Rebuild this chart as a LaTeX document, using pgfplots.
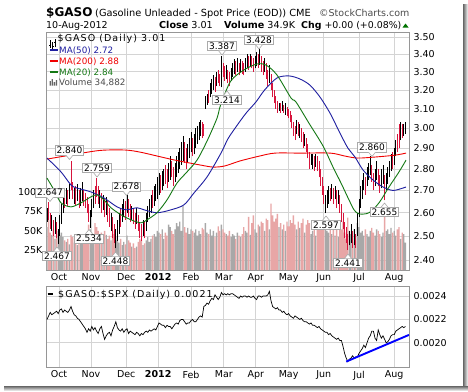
\documentclass[border=0pt]{standalone}
\usepackage{fontspec}
\setmainfont{DejaVu Sans}
\newfontfamily\widefont{DejaVu Sans}[LetterSpace=11]
\usepackage{pgfplots}
\usepackage{pgfplotstable}
\pgfplotsset{compat=1.18}

\definecolor{dnbar}{RGB}{215,20,60}
\definecolor{upvol}{RGB}{168,168,168}
\definecolor{dnvol}{RGB}{232,166,166}
\definecolor{ma50c}{RGB}{30,30,160}
\definecolor{ma200c}{RGB}{240,0,0}
\definecolor{ma20c}{RGB}{20,120,20}
\definecolor{gridc}{RGB}{212,212,212}
\definecolor{framec}{RGB}{150,150,150}
\definecolor{lblc}{RGB}{170,170,170}
\newcommand{\tfont}{\fontsize{9.5bp}{10bp}\selectfont}

\pgfplotstableread{
i lo hi vol
0 2.56 2.62 55
3 2.52 2.59 45
5 2.51 2.58 40
7 2.467 2.53 50
8 2.50 2.59 44
9 2.55 2.64 48
10 2.60 2.68 42
12 2.64 2.71 36
14 2.66 2.73 33
17 2.64 2.71 35
19 2.65 2.73 32
21 2.63 2.71 34
22 2.65 2.74 40
27 2.534 2.61 52
28 2.58 2.66 48
29 2.62 2.70 44
33 2.62 2.70 46
35 2.61 2.68 42
37 2.59 2.67 45
40 2.52 2.60 38
43 2.448 2.53 42
44 2.48 2.57 38
45 2.51 2.60 35
47 2.56 2.64 32
48 2.58 2.66 36
50 2.60 2.678 44
53 2.57 2.63 30
56 2.55 2.62 30
60 2.50 2.57 32
62 2.52 2.60 38
63 2.56 2.63 42
64 2.58 2.66 36
65 2.60 2.68 40
67 2.63 2.72 46
68 2.65 2.73 42
69 2.66 2.76 50
70 2.68 2.78 48
72 2.70 2.79 52
73 2.72 2.80 40
76 2.74 2.83 58
77 2.75 2.86 55
80 2.74 2.83 52
81 2.76 2.86 60
82 2.78 2.88 56
83 2.80 2.90 62
84 2.82 2.93 50
85 2.84 2.96 82
88 2.83 2.92 54
89 2.85 2.95 46
90 2.88 2.98 52
92 2.87 2.97 48
93 2.90 3.00 52
94 2.92 3.01 44
95 2.94 3.03 50
96 2.96 3.04 46
99 3.10 3.17 60
100 3.12 3.18 48
102 3.16 3.24 52
103 3.18 3.26 44
104 3.20 3.28 50
106 3.22 3.30 48
109 3.214 3.387 58
112 3.26 3.34 46
115 3.25 3.32 42
116 3.27 3.35 46
117 3.29 3.37 44
119 3.30 3.38 48
121 3.30 3.37 42
124 3.30 3.38 50
125 3.32 3.40 48
127 3.33 3.40 45
130 3.32 3.39 52
131 3.33 3.41 48
133 3.34 3.428 56
136 3.30 3.38 50
139 3.24 3.34 52
145 3.09 3.13 55
147 3.09 3.14 52
149 3.07 3.13 50
156 2.97 3.04 52
158 2.95 3.02 54
161 2.91 2.97 48
165 2.82 2.87 46
166 2.80 2.87 50
168 2.81 2.87 44
174 2.597 2.68 56
175 2.62 2.70 50
176 2.64 2.72 48
178 2.66 2.73 46
180 2.66 2.72 44
182 2.64 2.70 42
189 2.46 2.52 50
190 2.47 2.55 46
192 2.46 2.53 52
194 2.50 2.60 60
195 2.58 2.66 55
196 2.62 2.72 48
197 2.66 2.75 50
198 2.70 2.78 44
200 2.72 2.81 46
201 2.75 2.83 42
202 2.77 2.860 50
205 2.72 2.80 44
206 2.75 2.84 52
209 2.71 2.80 42
210 2.73 2.82 48
212 2.70 2.78 50
213 2.73 2.81 52
214 2.76 2.84 46
215 2.79 2.87 54
217 2.82 2.90 50
218 2.86 2.94 44
221 2.94 3.03 40
223 2.96 3.02 46
224 2.97 3.03 35
}\uptab

\pgfplotstableread{
i lo hi vol
1 2.57 2.647 64
2 2.53 2.60 48
4 2.50 2.57 52
6 2.49 2.56 46
11 2.62 2.70 38
13 2.63 2.70 40
15 2.70 2.840 45
16 2.66 2.74 42
18 2.63 2.72 38
20 2.62 2.70 36
23 2.63 2.70 38
24 2.62 2.69 42
25 2.60 2.67 46
26 2.56 2.64 58
30 2.64 2.72 60
31 2.67 2.759 55
32 2.64 2.72 50
34 2.60 2.69 48
36 2.58 2.66 50
38 2.56 2.65 40
39 2.54 2.62 44
41 2.49 2.58 46
42 2.47 2.55 50
46 2.54 2.62 40
49 2.57 2.65 33
51 2.58 2.66 38
52 2.56 2.64 35
54 2.55 2.62 34
55 2.53 2.60 28
57 2.52 2.59 36
58 2.49 2.56 40
59 2.48 2.55 38
61 2.49 2.56 34
66 2.62 2.70 44
71 2.69 2.77 46
74 2.73 2.82 48
75 2.71 2.80 44
78 2.76 2.84 50
79 2.72 2.81 46
86 2.83 2.93 55
87 2.80 2.90 48
91 2.86 2.95 50
97 2.95 3.03 54
98 2.96 3.02 52
101 3.13 3.20 46
105 3.19 3.27 42
107 3.24 3.31 56
108 3.22 3.29 50
110 3.27 3.35 52
111 3.25 3.33 48
113 3.24 3.31 44
114 3.22 3.30 50
118 3.28 3.36 40
120 3.28 3.35 44
122 3.29 3.36 46
123 3.28 3.35 55
126 3.31 3.39 68
128 3.32 3.39 60
129 3.30 3.38 70
132 3.32 3.40 58
134 3.30 3.39 62
135 3.28 3.36 60
137 3.26 3.35 66
138 3.22 3.31 64
140 3.20 3.29 85
141 3.16 3.24 70
142 3.13 3.20 62
143 3.10 3.17 66
144 3.08 3.14 72
146 3.08 3.13 60
148 3.08 3.12 58
150 3.06 3.11 62
151 3.05 3.10 56
152 3.03 3.09 64
153 3.00 3.07 60
154 2.96 3.03 70
155 2.94 3.01 58
157 2.96 3.03 62
159 2.93 3.00 60
160 2.90 2.98 66
162 2.88 2.95 58
163 2.85 2.92 64
164 2.80 2.88 60
167 2.79 2.86 56
169 2.79 2.86 52
170 2.76 2.84 58
171 2.72 2.80 62
172 2.68 2.76 54
173 2.64 2.72 60
177 2.65 2.71 54
179 2.64 2.71 58
181 2.62 2.70 60
183 2.60 2.68 56
184 2.56 2.64 52
185 2.53 2.60 62
186 2.49 2.56 48
187 2.47 2.54 40
188 2.441 2.51 67
191 2.45 2.52 36
193 2.45 2.51 38
199 2.68 2.76 52
203 2.74 2.82 54
204 2.70 2.78 48
207 2.72 2.80 50
208 2.69 2.77 46
211 2.655 2.77 68
216 2.80 2.88 48
219 2.88 2.97 52
220 2.90 3.02 55
222 2.95 3.02 48
}\dntab

\pgfplotstableread{
i p
0 2.852
8.75 2.786
15 2.725
18.75 2.711
27.5 2.693
35.6 2.666
43.75 2.626
49.4 2.613
56.25 2.622
60.6 2.613
68.75 2.600
77.5 2.613
85.6 2.635
91.9 2.689
100 2.762
108.75 2.876
113 2.945
118 3.005
124.4 3.077
130.6 3.136
136 3.200
143.75 3.266
151.25 3.277
158.1 3.260
164.4 3.226
170.6 3.162
176.9 3.077
183.1 2.975
188.1 2.900
192.5 2.857
197.5 2.795
203.75 2.748
210 2.716
216.25 2.700
222.5 2.711
224.4 2.716
}\mafifty

\pgfplotstableread{
i p
0 2.757
4.4 2.702
8.75 2.644
15 2.626
21.25 2.644
27.5 2.671
31.25 2.680
35.6 2.657
40 2.622
46.25 2.591
52.5 2.569
58.75 2.556
62.5 2.569
68.75 2.600
75 2.657
81.25 2.734
87.5 2.786
93.75 2.842
100 2.935
106.25 3.051
108.5 3.120
114.8 3.248
123 3.310
131.25 3.344
136.9 3.338
143.75 3.282
152.5 3.157
155.6 3.136
163.75 3.025
172.5 2.911
178.75 2.809
183.75 2.734
188.75 2.657
191.9 2.613
195 2.595
201.25 2.600
207.5 2.644
213.75 2.716
220 2.786
224.4 2.842
}\matwenty

\pgfplotstableread{
i p
0 2.847
14.4 2.866
33 2.889
48.75 2.891
58 2.881
68.75 2.862
80 2.842
95.6 2.819
103.75 2.809
111 2.814
120.6 2.838
133 2.862
142.5 2.876
158 2.876
177 2.876
186 2.862
194 2.852
205 2.857
217.5 2.866
224.4 2.876
}\matwohundred

\pgfplotstableread{
i v
0 0.00220
1 0.00223
2 0.00226
3 0.00224
4 0.00225
5 0.00226
6 0.00227
7 0.00225
8 0.00228
9 0.00229
10 0.00226
11 0.00228
12 0.00227
13 0.00226
14 0.00228
15 0.00231
16 0.00227
17 0.00224
18 0.00223
19 0.00221
20 0.00220
21 0.00218
22 0.00216
23 0.00214
24 0.00212
25 0.00209
26 0.00212
27 0.00210
28 0.00214
29 0.00211
30 0.00213
31 0.00210
32 0.00208
33 0.00212
34 0.00214
35 0.00208
36 0.00203
37 0.00206
38 0.00208
39 0.00209
40 0.00206
41 0.00211
42 0.00214
43 0.00218
44 0.00213
45 0.00211
46 0.00210
47 0.00212
48 0.00209
49 0.00211
50 0.00212
51 0.00208
52 0.00210
53 0.00209
54 0.00208
55 0.00207
56 0.00209
57 0.00208
58 0.00206
59 0.00208
60 0.00207
61 0.00209
62 0.00210
63 0.00209
64 0.00211
65 0.00210
66 0.00211
67 0.00212
68 0.00211
69 0.00214
70 0.00217
71 0.00216
72 0.00215
73 0.00215
74 0.00213
75 0.00215
76 0.00214
77 0.00214
78 0.00212
79 0.00214
80 0.00216
81 0.00217
82 0.00216
83 0.00219
84 0.00220
85 0.00220
86 0.00218
87 0.00216
88 0.00217
89 0.00217
90 0.00219
91 0.00220
92 0.00218
93 0.00218
94 0.00220
95 0.00222
96 0.00223
97 0.00222
98 0.00231
99 0.00232
100 0.00234
101 0.00233
102 0.00236
103 0.00238
104 0.00237
105 0.00241
106 0.00239
107 0.00237
108 0.00239
109 0.00243
110 0.00241
111 0.00242
112 0.00241
113 0.00242
114 0.00241
115 0.00242
116 0.00242
117 0.00241
118 0.00240
119 0.00239
120 0.00238
121 0.00240
122 0.00239
123 0.00240
124 0.00240
125 0.00239
126 0.00240
127 0.00239
128 0.00239
129 0.00240
130 0.00238
131 0.00237
132 0.00240
133 0.00240
134 0.00239
135 0.00240
136 0.00240
137 0.00240
138 0.00241
139 0.00244
140 0.00236
141 0.00231
142 0.00230
143 0.00229
144 0.00230
145 0.00228
146 0.00228
147 0.00226
148 0.00227
149 0.00225
150 0.00224
151 0.00225
152 0.00223
153 0.00222
154 0.00221
155 0.00223
156 0.00222
157 0.00221
158 0.00220
159 0.00221
160 0.00219
161 0.00218
162 0.00218
163 0.00217
164 0.00216
165 0.00217
166 0.00215
167 0.00215
168 0.00214
169 0.00213
170 0.00214
171 0.00212
172 0.00211
173 0.00210
174 0.00209
175 0.00209
176 0.00207
177 0.00208
178 0.00206
179 0.00205
180 0.00204
181 0.00203
182 0.00204
183 0.00202
184 0.00202
185 0.00197
186 0.00191
187 0.00187
188 0.00184
189 0.00186
190 0.00187
191 0.00189
192 0.00187
193 0.00188
194 0.00188
195 0.00191
196 0.00193
197 0.00195
198 0.00198
199 0.00196
200 0.00200
201 0.00204
202 0.00206
203 0.00210
204 0.00210
205 0.00204
206 0.00202
207 0.00211
208 0.00207
209 0.00204
210 0.00206
211 0.00203
212 0.00200
213 0.00201
214 0.00203
215 0.00206
216 0.00207
217 0.00207
218 0.00210
219 0.00211
220 0.00212
221 0.00213
222 0.00214
223 0.00213
224 0.00214
}\ratiotab

\tikzset{lbl/.style={draw=lblc, fill=white, line width=0.6bp, inner xsep=1.4bp, inner ysep=1.3bp, font=\fontsize{9bp}{9bp}\selectfont}}
\newcommand{\hilbl}[3]{%
  \node[lbl] (n) at (#1,#2) {#3};
  \draw[draw=lblc, fill=white, line width=0.6bp] ([xshift=-3.5bp,yshift=0.3bp]n.south) -- ([yshift=-4bp]n.south) -- ([xshift=3.5bp,yshift=0.3bp]n.south);}
\newcommand{\lolbl}[3]{%
  \node[lbl] (n) at (#1,#2) {#3};
  \draw[draw=lblc, fill=white, line width=0.6bp] ([xshift=-3.5bp,yshift=-0.3bp]n.north) -- ([yshift=4bp]n.north) -- ([xshift=3.5bp,yshift=-0.3bp]n.north);}

\begin{document}
\begin{tikzpicture}[x=1bp,y=1bp]
\useasboundingbox (0,0) rectangle (468,391);
\fill[white] (0,0) rectangle (468,391);
\shade[left color=black!60, right color=white] (463,0) rectangle (468,386);
\shade[top color=black!60, bottom color=white] (4,0) rectangle (468,5);

% ---------- main panel: grid, frame, ticks
\begin{axis}[
  at={(46bp,121bp)}, anchor=south west, scale only axis,
  width=363bp, height=238bp,
  xmin=-0.625, xmax=226.25,
  ymode=log, ymin=2.36, ymax=3.53,
  ytick={2.4,2.5,2.6,2.7,2.8,2.9,3.0,3.1,3.2,3.3,3.4,3.5},
  yticklabels={2.40,2.50,2.60,2.70,2.80,2.90,3.00,3.10,3.20,3.30,3.40,3.50},
  yminorticks=false,
  ytick pos=right, yticklabel pos=right,
  xtick={7.5,27.5,49.5,69.5,90,110.5,130.5,151,173,195,217},
  xticklabels={Oct,Nov,Dec,\textbf{2012},Feb,Mar,Apr,May,Jun,Jul,Aug},
  xtick pos=bottom,
  xmajorgrids, ymajorgrids,
  major grid style={draw=gridc, line width=0.7bp},
  axis line style={draw=framec, line width=0.8bp},
  major tick length=0pt,
  tick label style={font=\tfont},
  yticklabel style={anchor=west, xshift=1bp},
]
\end{axis}

% ---------- volume
\begin{axis}[
  at={(46bp,121bp)}, anchor=south west, scale only axis,
  width=363bp, height=238bp,
  xmin=-0.625, xmax=226.25, ymin=0, ymax=305,
  axis x line=none, axis y line*=left,
  y axis line style={draw=none},
  ytick={25,50,75,100}, yticklabels={25K,50K,75K,100K},
  major tick length=0pt,
  tick label style={font=\tfont},
]
\addplot[ybar, bar width=1.35bp, bar shift=0pt, fill=upvol, draw=none] table[x=i,y=vol]{\uptab};
\addplot[ybar, bar width=1.35bp, bar shift=0pt, fill=dnvol, draw=none] table[x=i,y=vol]{\dntab};
\end{axis}

% ---------- price bars and moving averages
\begin{axis}[
  at={(46bp,121bp)}, anchor=south west, scale only axis,
  width=363bp, height=238bp,
  xmin=-0.625, xmax=226.25,
  ymode=log, ymin=2.36, ymax=3.53,
  hide axis,
]
\addplot[draw=none, mark=none, forget plot, error bars/.cd, y dir=plus, y explicit, error mark=none,
  error bar style={draw=black, line width=0.9bp}]
  table[x=i, y=lo, y error expr=\thisrow{hi}-\thisrow{lo}]{\uptab};
\addplot[draw=none, mark=none, forget plot, error bars/.cd, y dir=plus, y explicit, error mark=none,
  error bar style={draw=dnbar, line width=0.9bp}]
  table[x=i, y=lo, y error expr=\thisrow{hi}-\thisrow{lo}]{\dntab};
\addplot[ma200c, line width=0.9bp, smooth, tension=0.5] table[x=i,y=p]{\matwohundred};
\addplot[ma50c, line width=0.9bp, smooth, tension=0.5] table[x=i,y=p]{\mafifty};
\addplot[ma20c, line width=0.9bp, smooth, tension=0.5] table[x=i,y=p]{\matwenty};
\end{axis}

% ---------- lower panel: ratio
\begin{axis}[
  at={(46bp,23.7bp)}, anchor=south west, scale only axis,
  width=363bp, height=81bp,
  xmin=-0.625, xmax=226.25,
  ymin=0.001791, ymax=0.002483,
  ytick={0.0020,0.0022,0.0024},
  yticklabels={0.0020,0.0022,0.0024},
  scaled y ticks=false,
  ytick pos=right, yticklabel pos=right,
  xtick={7.5,27.5,49.5,69.5,90,110.5,130.5,151,173,195,217},
  xticklabels={Oct,Nov,Dec,\textbf{2012},Feb,Mar,Apr,May,Jun,Jul,Aug},
  xtick pos=bottom,
  xmajorgrids, ymajorgrids,
  major grid style={draw=gridc, line width=0.7bp},
  axis line style={draw=framec, line width=0.8bp},
  major tick length=0pt,
  tick label style={font=\tfont},
  yticklabel style={anchor=west, xshift=1bp},
]
\addplot[black, line width=0.7bp] table[x=i,y=v]{\ratiotab};
\addplot[blue, line width=1.9bp] coordinates {(187,0.00184) (226.25,0.002068)};
\end{axis}

% ---------- price annotations
\hilbl{222}{345}{3.387}
\hilbl{259}{351}{3.428}
\lolbl{227}{291}{3.214}
\hilbl{69.5}{240.5}{2.840}
\hilbl{97}{223}{2.759}
\hilbl{126.5}{204.5}{2.678}
\hilbl{50}{198.5}{2.647}
\lolbl{89}{152.5}{2.534}
\lolbl{57}{135}{2.467}
\lolbl{115.5}{130}{2.448}
\lolbl{326}{166}{2.597}
\lolbl{348}{128}{2.441}
\hilbl{372}{243.5}{2.860}
\lolbl{384.5}{179}{2.655}

% ---------- main legend
\draw[black, line width=0.8bp] (50,343)--(50,351) (52.5,342)--(52.5,349) (55,344)--(55,352);
\draw[black, line width=0.6bp] (49,346)--(50,346) (50,348)--(51,348) (51.5,347)--(52.5,347) (52.5,345)--(53.5,345) (54,349)--(55,349) (55,347)--(56,347);
\node[anchor=base west, inner sep=0pt, font=\widefont\fontsize{9.5bp}{10bp}\selectfont] at (57.5,350) {\$GASO (Daily) 3.01};
\draw[ma50c, line width=2bp] (49.5,341)--(57.5,341);
\node[anchor=base west, inner sep=0pt, text=ma50c, font=\fontsize{8.8bp}{10bp}\selectfont] at (59,338) {MA(50) 2.72};
\draw[ma200c, line width=2bp] (49.5,330)--(57.5,330);
\node[anchor=base west, inner sep=0pt, text=ma200c, font=\fontsize{8.8bp}{10bp}\selectfont] at (59,327) {MA(200) 2.88};
\draw[ma20c, line width=2bp] (49.5,319)--(57.5,319);
\node[anchor=base west, inner sep=0pt, text=ma20c, font=\fontsize{8.8bp}{10bp}\selectfont] at (59,316) {MA(20) 2.84};
\fill[black!60] (49.5,305.5) rectangle (50.8,310) (51.6,305.5) rectangle (52.9,312) (53.7,305.5) rectangle (55,309) (55.8,305.5) rectangle (57,311);
\node[anchor=base west, inner sep=0pt, text=black!70, font=\fontsize{8.8bp}{10bp}\selectfont] at (59,305.5) {Volume 34,882};

% ---------- lower legend
\draw[black, line width=2bp] (47.5,97.3)--(53,97.3);
\node[anchor=base west, inner sep=0pt, font=\widefont\fontsize{9.5bp}{10bp}\selectfont] at (58,93.7) {\$GASO:\$SPX (Daily) 0.0021};

% ---------- header
\node[anchor=base west, inner sep=0pt, font=\bfseries\fontsize{12bp}{13bp}\selectfont] at (46,375) {\$GASO};
\node[anchor=base west, inner sep=0pt, font=\fontsize{9.8bp}{11bp}\selectfont] at (95,375) {(Gasoline Unleaded - Spot Price (EOD)) CME};
\node[anchor=base west, inner sep=0pt, text=black!70, font=\fontsize{9.5bp}{11bp}\selectfont] at (319,375) {\textcopyright StockCharts.com};
\node[anchor=base west, inner sep=0pt, font=\fontsize{9.5bp}{11bp}\selectfont] at (46,362.7) {10-Aug-2012};
\node[anchor=base west, inner sep=0pt, font=\fontsize{9.6bp}{11bp}\selectfont] at (159,362.7) {\textbf{Close} 3.01};
\node[anchor=base west, inner sep=0pt, font=\fontsize{9.6bp}{11bp}\selectfont] at (224,362.7) {\textbf{Volume} 34.9K};
\node[anchor=base west, inner sep=0pt, font=\fontsize{9.4bp}{11bp}\selectfont] at (301,362.7) {\textbf{Chg} +0.00 (+0.08\%)};
\fill[green!45!black] (402.5,363.5) -- (408.5,363.5) -- (405.5,367.5) -- cycle;
\end{tikzpicture}
\end{document}
